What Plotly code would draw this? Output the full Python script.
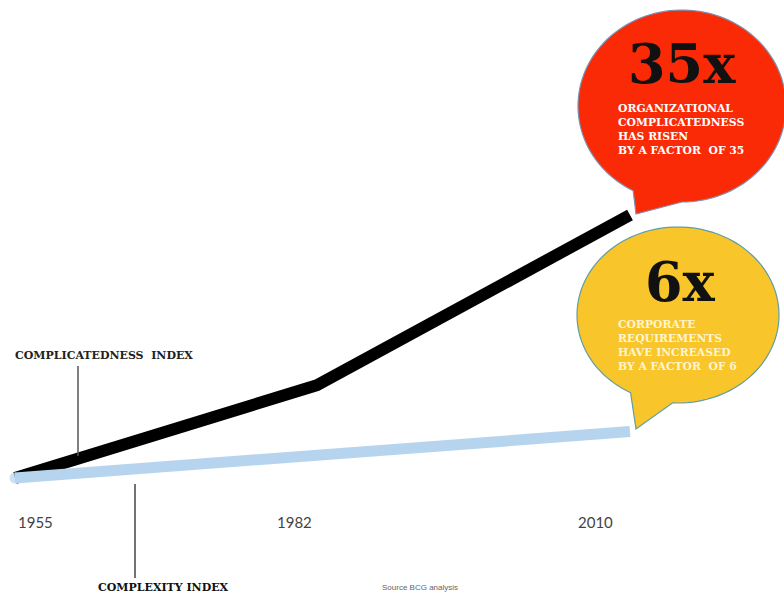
import numpy as np
import plotly.graph_objects as go

# ---- data ----
years = [1955, 1982, 2010]
tick_labels = ["1955", "1982", "2010"]
complicatedness = [1, 13, 35]
complexity = [1, 4, 7]
series_names = ["COMPLICATEDNESS  INDEX", "COMPLEXITY INDEX"]
big_labels = ["35x", "6x"]
callout_texts = [
    "ORGANIZATIONAL<br>COMPLICATEDNESS<br>HAS RISEN<br>BY A FACTOR  OF 35",
    "CORPORATE<br>REQUIREMENTS<br>HAVE INCREASED<br>BY A FACTOR  OF 6",
]
source_text = "Source BCG analysis"

W, H = 784, 594


def px(x):
    return x / W


def py(y):
    return 1 - y / H


fig = go.Figure()

# lines
fig.add_trace(go.Scatter(x=years, y=complicatedness, mode="lines",
                         line=dict(color="#000000", width=12), name=series_names[0],
                         hoverinfo="skip"))
fig.add_trace(go.Scatter(x=years, y=complexity, mode="lines+markers",
                         line=dict(color="#b7d4ee", width=11),
                         marker=dict(color="#b7d4ee", size=[11, 0, 0], line=dict(width=0)),
                         name=series_names[1], hoverinfo="skip"))


def bubble_path(cx, cy, rx, ry, a_start, a_end, tip):
    angs = np.linspace(np.radians(a_start), np.radians(a_end), 120)
    pts = [(cx + rx * np.cos(a), cy + ry * np.sin(a)) for a in angs]
    pts.append(tip)
    d = "M " + " L ".join(f"{px(x):.5f},{py(y):.5f}" for x, y in pts) + " Z"
    return d


shapes = []
shapes.append(dict(type="path", xref="paper", yref="paper",
                   path=bubble_path(682, 106, 104, 96, 118, 118 + 360 - 28, (636, 214)),
                   fillcolor="#fb2a06", line=dict(color="#7d93b4", width=1.2)))
shapes.append(dict(type="path", xref="paper", yref="paper",
                   path=bubble_path(678, 315, 101, 88, 118, 118 + 360 - 25, (636, 429)),
                   fillcolor="#f8c52a", line=dict(color="#5f9ea4", width=1.2)))
shapes.append(dict(type="line", xref="paper", yref="paper",
                   x0=px(78), y0=py(366), x1=px(78), y1=py(456),
                   line=dict(color="#555555", width=1.5)))
shapes.append(dict(type="line", xref="paper", yref="paper",
                   x0=px(135), y0=py(484), x1=px(135), y1=py(578),
                   line=dict(color="#444444", width=1.5)))

ann = []
serif = "DejaVu Serif"
ann.append(dict(text=big_labels[0], x=px(682), y=py(64), xref="paper", yref="paper",
                showarrow=False, font=dict(family=serif, size=54, color="#111111",
                                           weight="bold"), xanchor="center", yanchor="middle"))
ann.append(dict(text=callout_texts[0], x=px(616), y=py(100), xref="paper", yref="paper",
                showarrow=False, align="left", xanchor="left", yanchor="top",
                font=dict(family=serif, size=10.8, color="#ffffff", weight="bold")))
ann.append(dict(text=big_labels[1], x=px(680), y=py(282), xref="paper", yref="paper",
                showarrow=False, font=dict(family=serif, size=54, color="#111111",
                                           weight="bold"), xanchor="center", yanchor="middle"))
ann.append(dict(text=callout_texts[1], x=px(616), y=py(316), xref="paper", yref="paper",
                showarrow=False, align="left", xanchor="left", yanchor="top",
                font=dict(family=serif, size=10.8, color="#fff4d0", weight="bold")))
ann.append(dict(text=series_names[0], x=px(13), y=py(355), xref="paper", yref="paper",
                showarrow=False, xanchor="left", yanchor="middle",
                font=dict(family=serif, size=11, color="#222222", weight="bold")))
ann.append(dict(text=series_names[1], x=px(96), y=py(587), xref="paper", yref="paper",
                showarrow=False, xanchor="left", yanchor="middle",
                font=dict(family=serif, size=11, color="#111111", weight="bold")))
ann.append(dict(text=source_text, x=px(380), y=py(587), xref="paper", yref="paper",
                showarrow=False, xanchor="left", yanchor="middle",
                font=dict(family="Liberation Sans", size=8, color="#666666")))
shifts = [20, -22, -35]
for yr, lab, s in zip(years, tick_labels, shifts):
    ann.append(dict(text=lab, x=yr, xref="x", y=py(522), yref="paper", xshift=s,
                    showarrow=False, xanchor="center", yanchor="middle",
                    font=dict(family="Lato", size=15, color="#444444")))

sx = (630 - 15) / (2010 - 1955)
x0 = 1955 - 15 / sx
x1 = 1955 + (W - 15) / sx
sy = (478 - 215) / (35 - 1)
a = 478 + sy * 1
y_top = a / sy
y_bot = (a - H) / sy

fig.update_layout(
    width=W, height=H, margin=dict(l=0, r=0, t=0, b=0),
    paper_bgcolor="white", plot_bgcolor="white", showlegend=False,
    xaxis=dict(range=[x0, x1], visible=False, fixedrange=True),
    yaxis=dict(range=[y_bot, y_top], visible=False, fixedrange=True),
    shapes=shapes, annotations=ann,
)

fig.write_html("out.html", config={"displayModeBar": False},
               post_script="document.body.style.margin='0px';document.body.style.overflow='hidden';")
